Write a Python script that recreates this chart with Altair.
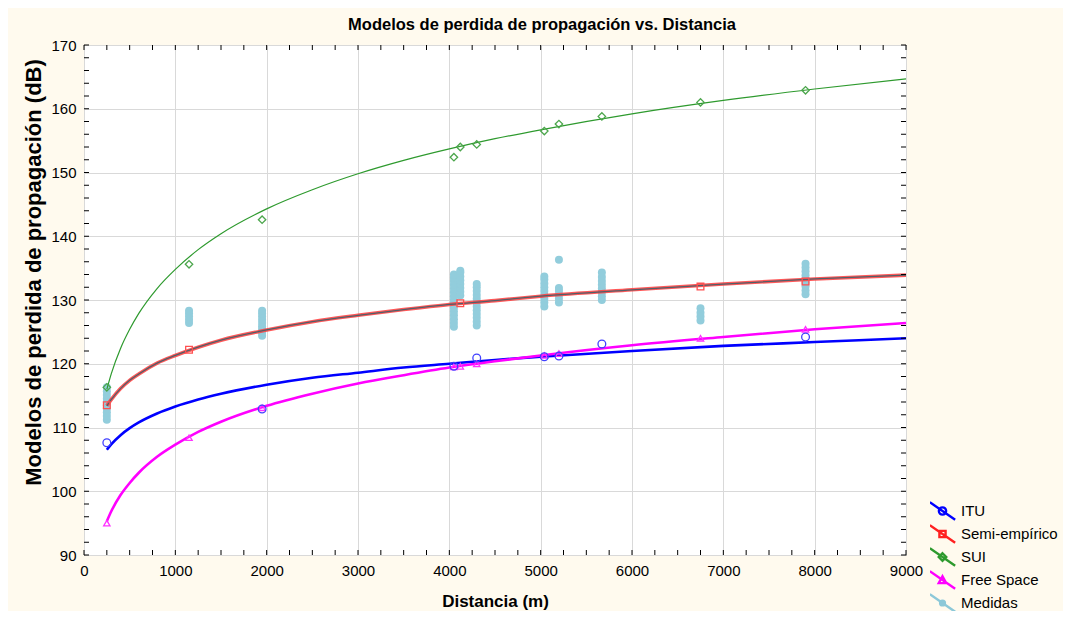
import altair as alt
import pandas as pd

# ---------------- data ----------------
series_names = ["ITU", "Semi-empírico", "SUI", "Free Space", "Medidas"]

curve_d = [250, 300, 400, 500, 600, 800, 1000, 1250, 1500, 2000, 2500, 3000,
           3500, 4000, 4500, 5000, 6000, 7000, 8000, 9000]
itu_curve = [106.5, 107.4, 108.8, 109.9, 110.8, 112.2, 113.3, 114.4, 115.3, 116.7,
             117.8, 118.6, 119.4, 120.0, 120.6, 121.1, 122.0, 122.8, 123.4, 124.0]
semi_curve = [113.4, 114.4, 116.1, 117.4, 118.4, 120.1, 121.3, 122.6, 123.7, 125.3,
              126.6, 127.6, 128.5, 129.3, 129.9, 130.6, 131.6, 132.5, 133.3, 133.9]
sui_curve = [116.0, 118.5, 122.4, 125.4, 127.9, 131.8, 134.8, 137.9, 140.4, 144.3,
             147.3, 149.8, 151.9, 153.7, 155.3, 156.7, 159.2, 161.3, 163.1, 164.7]
fs_curve = [95.3, 96.9, 99.4, 101.3, 102.9, 105.4, 107.3, 109.3, 110.9, 113.4,
            115.3, 116.9, 118.2, 119.4, 120.4, 121.3, 122.9, 124.2, 125.4, 126.4]

itu_mk_d = [250, 1950, 4050, 4300, 5040, 5200, 5670, 7900]
itu_mk = [107.6, 112.9, 119.6, 120.9, 121.1, 121.2, 123.1, 124.2]
semi_mk_d = [250, 1150, 4120, 6750, 7900]
semi_mk = [113.5, 122.2, 129.5, 132.1, 132.9]
sui_mk_d = [250, 1150, 1950, 4050, 4120, 4300, 5040, 5200, 5670, 6750, 7900]
sui_mk = [116.3, 135.6, 142.6, 152.4, 154.0, 154.4, 156.5, 157.6, 158.8, 161.0, 162.9]
fs_mk_d = [250, 1150, 1950, 4050, 4120, 4300, 5040, 5200, 6750, 7900]
fs_mk = [95.0, 108.4, 113.1, 119.5, 119.6, 120.0, 121.3, 121.6, 124.0, 125.4]

med_d = [250, 1150, 1950, 4050, 4120, 4300, 5040, 5200, 5670, 6750, 7900]
med_vals = [
    [111.2, 111.8, 112.4, 113.0, 113.5, 114.0, 114.5, 115.1, 115.7, 116.3],
    [126.4, 126.9, 127.4, 127.9, 128.3],
    [124.4, 124.9, 125.4, 125.9, 126.4, 126.9, 127.4, 127.9, 128.3],
    [125.8, 126.4, 127.0, 127.6, 128.2, 128.8, 129.4, 130.0, 130.6, 131.2,
     131.8, 132.4, 133.0, 133.5, 134.0],
    [130.7, 131.3, 131.9, 132.5, 133.1, 133.7, 134.3, 134.6],
    [126.0, 126.6, 127.2, 127.8, 128.4, 129.0, 129.6, 130.2, 130.8, 131.4, 132.0, 132.5],
    [129.0, 129.6, 130.2, 130.8, 131.4, 132.0, 132.6, 133.2, 133.7],
    [129.6, 130.2, 130.8, 131.4, 131.9, 136.3],
    [130.0, 130.6, 131.2, 131.8, 132.4, 133.0, 133.6, 134.3],
    [126.8, 127.4, 128.0, 128.7],
    [130.9, 131.5, 132.1, 132.7, 133.3, 133.9, 134.5, 135.1, 135.7],
]

x_ticks = list(range(0, 9001, 250))
y_ticks = list(range(90, 171, 2))

# ---------------- chart ----------------
W, H = 822, 510
FONT = "Liberation Sans"

xs = alt.Scale(domain=[0, 9000], nice=False, zero=False)
ys = alt.Scale(domain=[90, 170], nice=False, zero=False)
xaxis = alt.Axis(title="Distancia (m)", values=list(range(0, 9001, 1000)), format="d",
                 titleFontSize=17, titleFontWeight="bold", titlePadding=15,
                 labelFontSize=15, labelPadding=8, labelFlush=False, labelOverlap=False)
yaxis = alt.Axis(title="Modelos de perdida de propagación (dB)", values=list(range(90, 171, 10)),
                 titleFontSize=22, titleFontWeight="bold", titlePadding=5, titleY=227,
                 labelFontSize=15, labelPadding=8, labelFlush=False, labelOverlap=False)


def X():
    return alt.X("d:Q", scale=xs, axis=xaxis)


def Y():
    return alt.Y("L:Q", scale=ys, axis=yaxis)


layers = []

# measurements
med_rows = [{"d": d, "L": v} for d, vals in zip(med_d, med_vals) for v in vals]
layers.append(alt.Chart(pd.DataFrame(med_rows)).mark_circle(
    size=64, color="#92CDDC", opacity=1).encode(x=X(), y=Y()))


def curve_df(vals):
    return pd.DataFrame({"d": curve_d, "L": vals})


layers.append(alt.Chart(curve_df(itu_curve)).mark_line(
    color="#0000FF", strokeWidth=2.6, interpolate="monotone").encode(x=X(), y=Y()))
layers.append(alt.Chart(curve_df(fs_curve)).mark_line(
    color="#FF00FF", strokeWidth=2.6, interpolate="monotone").encode(x=X(), y=Y()))
layers.append(alt.Chart(curve_df(sui_curve)).mark_line(
    color="#2E9A2E", strokeWidth=1.2, interpolate="monotone").encode(x=X(), y=Y()))
layers.append(alt.Chart(curve_df(semi_curve)).mark_line(
    color="#FF3B3B", strokeWidth=3.6, opacity=0.85, interpolate="monotone").encode(x=X(), y=Y()))
layers.append(alt.Chart(curve_df(semi_curve)).mark_line(
    color="#50606A", strokeWidth=1.3, interpolate="monotone").encode(x=X(), y=Y()))


def mk(ds, vals, shape, color, size=55):
    return alt.Chart(pd.DataFrame({"d": ds, "L": vals})).mark_point(
        shape=shape, filled=False, color=color, size=size, strokeWidth=1.3, opacity=1
    ).encode(x=X(), y=Y())


layers.append(mk(sui_mk_d, sui_mk, "diamond", "#4CA64C"))
layers.append(mk(semi_mk_d, semi_mk, "square", "#FF5050", 45))
layers.append(mk(fs_mk_d, fs_mk, "triangle-up", "#FF33FF", 40))
layers.append(mk(itu_mk_d, itu_mk, "circle", "#4040FF", 60))

# inward tick marks on all four sides
xt = pd.DataFrame({"d": x_ticks})
yt = pd.DataFrame({"L": y_ticks})
layers.append(alt.Chart(xt).mark_rule(color="black", strokeWidth=1).encode(
    x=X(), y=alt.value(H - 5), y2=alt.value(H)))
layers.append(alt.Chart(xt).mark_rule(color="black", strokeWidth=1).encode(
    x=X(), y=alt.value(0), y2=alt.value(5)))
layers.append(alt.Chart(yt).mark_rule(color="black", strokeWidth=1).encode(
    y=Y(), x=alt.value(0), x2=alt.value(5)))
layers.append(alt.Chart(yt).mark_rule(color="black", strokeWidth=1).encode(
    y=Y(), x=alt.value(W - 5), x2=alt.value(W)))

# legend (symbols drawn as line + marker)
line = "M-1.15,-0.8L1.15,0.8"
circ = "M0.33,0A0.33,0.33 0 1 1 -0.33,0A0.33,0.33 0 1 1 0.33,0"
legend_paths = [
    line + circ,
    line + "M-0.28,-0.28L0.28,-0.28L0.28,0.28L-0.28,0.28Z",
    line + "M0,-0.34L0.34,0L0,0.34L-0.34,0Z",
    line + "M0,-0.34L0.34,0.28L-0.34,0.28Z",
    line + "M0.22,0A0.22,0.22 0 1 1 -0.22,0A0.22,0.22 0 1 1 0.22,0",
]
legend_colors = ["#0000FF", "#FF2020", "#2E9A2E", "#FF00FF", "#8CC8D8"]
leg = alt.Legend(title=None, orient="none", legendX=846, legendY=455,
                 labelFontSize=15, labelFont=FONT, labelColor="black",
                 symbolSize=484, symbolStrokeWidth=2.4, rowPadding=1, labelOffset=6,
                 clipHeight=22, symbolFillColor="transparent")
legend_df = pd.DataFrame({"d": [0] * 5, "L": [100] * 5, "series": series_names})
layers.append(alt.Chart(legend_df).transform_filter("false").mark_point(
    filled=False, opacity=1).encode(
    x=X(), y=Y(),
    color=alt.Color("series:N", scale=alt.Scale(domain=series_names, range=legend_colors), legend=leg),
    shape=alt.Shape("series:N", scale=alt.Scale(domain=series_names, range=legend_paths), legend=leg),
))

chart = alt.layer(*layers).properties(
    width=W, height=H,
    title=alt.TitleParams("Modelos de perdida de propagación vs. Distancia", fontSize=16.5,
                          font=FONT, fontWeight="bold", anchor="middle", frame="group",
                          dx=47, offset=5, color="black"),
    autosize=alt.AutoSizeParams(type="none"),
    padding={"left": 76, "top": 37, "right": 157, "bottom": 56},
    background="#FFFAEE",
).configure_view(
    stroke="black", strokeWidth=1, fill="white"
).configure_axis(
    grid=True, gridColor="#D9D9D9", gridWidth=1, domain=False, ticks=False,
    labelFont=FONT, titleFont=FONT, labelColor="black", titleColor="black"
)

chart.save("out.html", embed_options={"renderer": "svg", "actions": False})
